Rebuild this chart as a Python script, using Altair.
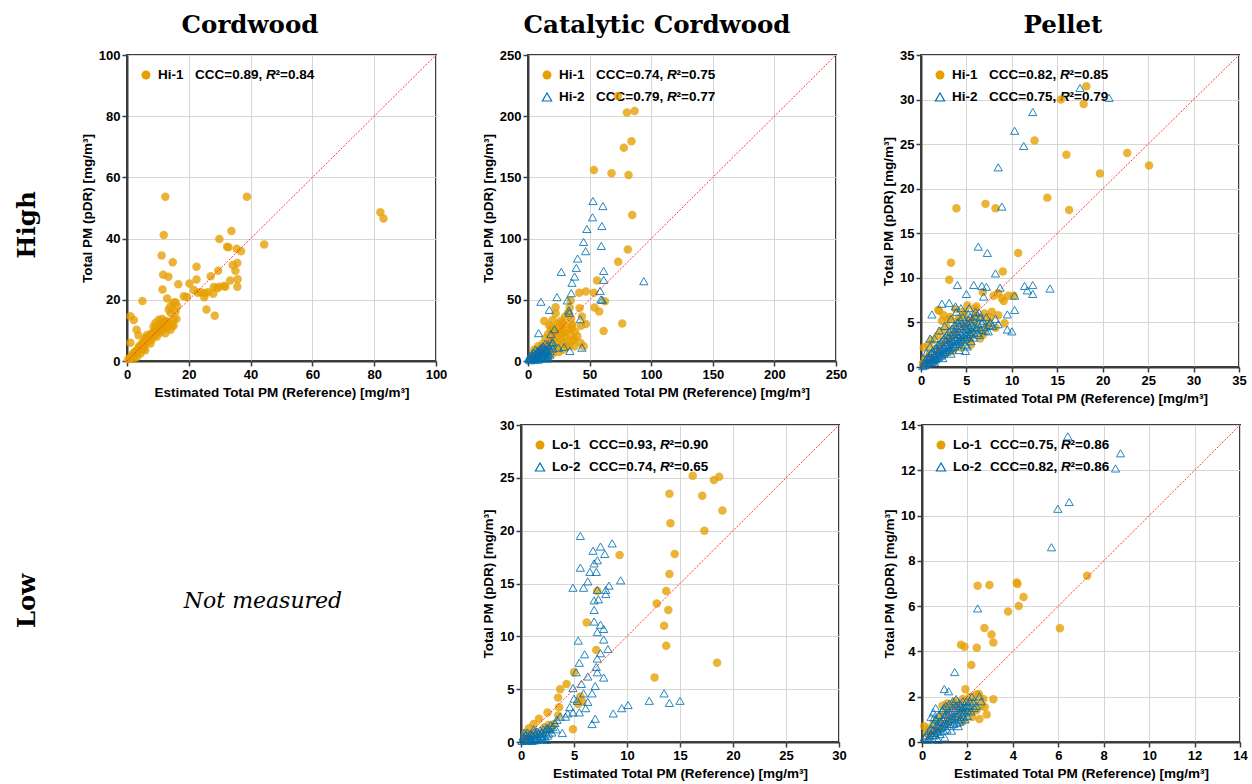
import altair as alt
import pandas as pd

# ---------------- data ----------------
# Cordwood, High burn rate, Hi-1 (x = reference, y = pDR), mg/m3
cord_hi1 = [
    (12.4, 53.7), (38.8, 53.7), (82.0, 48.6), (83.0, 46.6), (11.9, 41.2), (33.8, 42.5),
    (29.9, 39.9), (32.4, 37.3), (32.8, 37.2), (44.4, 38.1), (35.5, 36.7), (36.9, 35.9),
    (11.2, 34.5), (14.8, 32.3), (22.5, 30.8), (34.2, 31.4), (35.7, 32.0), (35.1, 29.5),
    (29.5, 29.5), (27.1, 27.7), (11.7, 28.2), (13.4, 27.5), (22.5, 26.6), (16.6, 25.1),
    (20.2, 25.3), (35.8, 26.7), (33.4, 26.3), (11.5, 23.4), (31.4, 24.5), (29.8, 24.3),
    (28.1, 24.2), (29.2, 23.8), (31.8, 24.3), (35.7, 24.3), (21.6, 23.2), (23.8, 22.5),
    (22.9, 22.3), (25.1, 22.2), (26.2, 22.5), (27.9, 22.0), (25.0, 20.8), (18.4, 21.2),
    (19.4, 20.9), (13.0, 20.4), (15.1, 19.0), (14.1, 17.9), (15.7, 19.2), (5.0, 19.6),
    (25.7, 16.8), (28.4, 14.8), (1.1, 14.6), (2.2, 13.4), (13.5, 16.8), (14.1, 15.7),
    (16.0, 13.7), (15.1, 11.5), (3.1, 10.2), (3.7, 8.4), (1.1, 6.0),
    (0.4, 0.6), (0.9, 0.7), (1.3, 1.4), (1.6, 1.3), (2.0, 1.9), (2.2, 0.8), (2.7, 2.4),
    (3.0, 3.3), (3.2, 1.3), (3.6, 3.5), (3.8, 4.4), (4.3, 2.4), (4.6, 5.0), (4.9, 4.6),
    (5.3, 6.3), (5.4, 4.2), (5.9, 3.5), (6.2, 7.0), (6.5, 8.5), (6.8, 6.2), (7.0, 6.9),
    (7.4, 8.2), (7.6, 5.7), (8.1, 9.1), (8.4, 7.8), (8.6, 11.3), (9.0, 10.1), (9.2, 12.4),
    (9.7, 8.0), (10.0, 10.6), (10.3, 13.5), (10.8, 9.3), (11.0, 12.0), (11.4, 13.7),
    (11.4, 10.7), (12.0, 11.2), (12.4, 13.1), (12.4, 9.1), (12.7, 10.7), (13.0, 12.8),
    (13.5, 12.4), (14.1, 10.2), (14.6, 11.8), (15.1, 13.5), (15.7, 16.2), (16.2, 17.9),
    (1.0, 1.0), (1.8, 2.2), (2.5, 3.0), (3.4, 3.0), (4.0, 4.8), (4.8, 5.6), (5.6, 5.2),
    (6.0, 7.4), (6.9, 7.6), (7.8, 8.8), (8.8, 9.2), (9.5, 10.8), (10.5, 11.5), (11.8, 12.6),
    (12.2, 11.9), (13.2, 11.2), (10.2, 9.8), (9.0, 8.6), (8.0, 7.0), (5.0, 3.8),
]

# Catalytic cordwood, High: Hi-1 (circles) and Hi-2 (triangles)
cat_hi1 = [
    (73.0, 216.6), (80.3, 203.0), (86.5, 204.3), (77.8, 174.2), (84.0, 179.6), (53.5, 156.0),
    (67.8, 153.3), (81.6, 151.9), (84.6, 119.3), (81.0, 91.0), (73.2, 81.0), (56.0, 65.8),
    (41.6, 55.7), (47.0, 56.8), (53.5, 55.7), (62.4, 48.9), (54.0, 43.8), (57.8, 40.5),
    (76.5, 30.7), (61.4, 24.5), (34.6, 49.5), (33.8, 43.5), (32.4, 39.1), (34.9, 34.5),
    (22.4, 44.0), (22.4, 38.9), (13.2, 32.6), (36.0, 29.6), (41.9, 43.2), (43.8, 36.4),
    (42.7, 14.7), (36.5, 16.8), (26.8, 32.9), (20.0, 33.4), (35.4, 28.8), (43.0, 28.8),
    (47.0, 30.2), (37.6, 17.9), (45.1, 12.0), (37.6, 12.0), (26.8, 26.0), (29.5, 23.4),
    (24.0, 20.7), (21.4, 24.7), (18.6, 27.4),
    (10.2, 10.5), (12.1, 14.2), (14.3, 18.6), (15.2, 11.8), (16.4, 22.1), (17.2, 8.3),
    (18.1, 16.4), (19.3, 20.2), (20.4, 13.1), (21.2, 18.3), (22.1, 24.4), (23.3, 11.2),
    (24.2, 15.1), (25.1, 28.3), (26.3, 18.2), (27.2, 22.4), (28.1, 14.3), (29.4, 30.2),
    (30.2, 19.4), (31.1, 25.3), (32.3, 16.1), (33.2, 12.2), (34.1, 22.3), (35.3, 26.2),
    (38.2, 24.1), (40.1, 20.3), (6.1, 5.2), (8.2, 12.1), (9.1, 4.3), (11.3, 7.2),
    (13.2, 9.1), (5.2, 9.3), (7.1, 3.2), (3.2, 2.1), (4.1, 6.2), (28.3, 9.2),
    (31.2, 12.4), (25.1, 7.3), (20.2, 6.1), (16.1, 4.2), (12.3, 11.1), (30.1, 36.2),
    (27.2, 31.1), (24.1, 30.3), (19.2, 25.1), (17.1, 29.2),
]
cat_hi2 = [
    (52.7, 130.7), (60.8, 126.6), (52.4, 117.4), (60.0, 110.3), (47.8, 107.9), (45.1, 97.3),
    (46.8, 89.7), (59.5, 94.0), (40.3, 83.7), (39.2, 76.1), (37.8, 69.0), (27.0, 72.8),
    (35.7, 63.9), (61.4, 73.6), (61.4, 66.3), (94.0, 65.2), (35.1, 55.4), (58.6, 57.3),
    (59.2, 50.3), (60.3, 50.0), (23.5, 52.2), (31.9, 49.5), (33.2, 41.3), (10.5, 48.4),
    (17.3, 41.8), (42.4, 34.2), (8.6, 22.8), (34.0, 8.2), (43.8, 10.9), (29.2, 11.4),
    (24.6, 10.9), (18.9, 12.8), (20.0, 15.2), (18.6, 22.0), (33.5, 39.4), (21.4, 26.0),
    (1.1, 1.2), (2.2, 3.1), (3.1, 1.6), (4.2, 4.1), (5.1, 2.2), (6.3, 6.1), (7.2, 3.3),
    (8.1, 8.2), (9.3, 4.1), (10.2, 10.3), (11.1, 5.2), (12.2, 12.1), (13.1, 7.3),
    (14.2, 14.3), (15.1, 9.2), (16.3, 6.1), (17.2, 11.2), (12.1, 2.3), (10.3, 7.1),
    (8.2, 1.1), (6.1, 9.2), (4.3, 7.1), (2.1, 0.6), (3.2, 5.1), (5.3, 5.2), (7.1, 7.2),
    (9.2, 9.1), (11.3, 11.2), (13.2, 3.1), (14.1, 5.3), (15.2, 2.1), (16.2, 13.2),
    (18.1, 8.1), (19.2, 15.1), (20.1, 10.2), (1.6, 4.2), (3.6, 2.6), (5.6, 1.1),
    (7.6, 5.1), (9.6, 2.1), (11.6, 8.2), (13.6, 10.1), (15.6, 4.1), (17.6, 5.2),
    (6.6, 4.1), (8.6, 6.2), (10.6, 3.1), (12.6, 6.2), (14.6, 8.1), (16.6, 3.1),
    (0.6, 2.1), (2.6, 2.2), (4.6, 3.1),
]

# Pellet, High: Hi-1 (circles) and Hi-2 (triangles)
pel_hi1 = [
    (18.2, 31.5), (15.4, 30.0), (17.9, 29.5), (12.5, 25.4), (16.0, 23.8), (22.7, 24.0),
    (25.1, 22.6), (19.7, 21.7), (13.9, 19.0), (16.3, 17.6), (3.9, 17.8), (7.1, 18.3),
    (8.2, 17.8), (10.7, 12.8), (3.3, 11.7), (3.1, 9.8), (9.0, 10.7), (6.8, 8.4),
    (8.9, 7.7), (9.6, 8.0), (10.2, 8.0), (9.1, 7.4), (8.5, 8.3), (9.2, 4.9), (2.0, 6.3),
    (5.1, 6.9), (6.1, 6.8), (7.8, 6.2), (8.5, 5.8), (2.5, 5.8), (3.0, 5.3), (8.0, 8.0),
    (7.4, 5.1), (5.8, 5.1), (4.7, 4.7), (6.9, 4.0), (6.5, 3.2), (5.4, 3.1), (3.9, 5.1),
    (3.2, 5.6), (1.9, 6.4),
    (0.3, 2.2), (0.5, 1.0), (0.8, 2.5), (1.0, 1.5), (1.2, 3.0), (1.5, 2.0), (1.8, 3.5),
    (2.0, 2.5), (2.2, 4.0), (2.5, 3.0), (2.8, 4.5), (3.0, 3.5), (3.3, 2.8), (3.6, 4.2),
    (4.0, 3.6), (4.2, 5.5), (4.5, 3.0), (4.8, 5.8), (5.0, 4.2), (5.3, 5.2), (5.6, 3.8),
    (6.0, 5.8), (6.2, 4.5), (6.6, 5.5), (7.0, 6.0), (7.3, 4.6), (7.6, 5.6), (5.5, 2.5),
    (4.4, 2.2), (3.5, 1.8), (2.6, 1.5), (1.6, 0.8), (0.2, 0.4), (0.6, 0.3), (8.2, 4.4),
    (6.8, 3.6), (5.9, 6.5), (4.6, 6.2), (3.8, 6.5), (2.3, 5.2),
]
pel_hi2 = [
    (17.5, 31.3), (20.7, 30.2), (12.3, 28.6), (10.3, 26.5), (11.3, 24.8), (8.5, 22.4),
    (8.9, 18.0), (6.3, 13.5), (7.3, 12.8), (8.2, 10.5), (4.0, 9.2), (5.8, 9.2), (6.7, 9.1),
    (7.2, 9.0), (11.4, 9.1), (12.3, 9.2), (14.2, 8.8), (11.7, 8.6), (12.3, 8.2), (10.3, 8.0),
    (8.7, 8.9), (5.0, 8.2), (6.9, 7.9), (1.2, 5.9), (2.3, 7.1), (3.1, 7.2), (3.8, 6.8),
    (10.3, 6.4), (9.5, 5.9), (9.5, 4.2), (10.0, 4.0), (4.9, 1.8), (1.0, 3.2),
    (0.2, 0.1), (0.3, 0.5), (0.4, 0.2), (0.5, 0.8), (0.6, 0.4), (0.7, 1.1), (0.8, 0.5),
    (0.9, 0.9), (1.0, 1.4), (1.1, 0.6), (1.2, 1.0), (1.3, 1.8), (1.4, 0.8), (1.5, 1.3),
    (1.6, 2.1), (1.7, 1.0), (1.8, 1.6), (1.9, 2.5), (2.0, 1.2), (2.1, 1.9), (2.2, 2.8),
    (2.3, 1.4), (2.4, 2.2), (2.5, 3.2), (2.6, 1.7), (2.7, 2.5), (2.8, 3.6), (2.9, 1.9),
    (3.0, 2.8), (3.1, 4.0), (3.2, 2.1), (3.3, 3.1), (3.4, 4.3), (3.5, 2.4), (3.6, 3.4),
    (3.7, 4.7), (3.8, 2.6), (3.9, 3.7), (4.0, 5.0), (4.1, 2.9), (4.2, 4.0), (4.3, 5.3),
    (4.4, 3.1), (4.5, 4.3), (4.6, 5.6), (4.7, 3.4), (4.8, 4.6), (4.9, 2.5), (5.0, 3.6),
    (5.1, 4.9), (5.2, 6.0), (5.3, 3.9), (5.4, 5.1), (5.5, 2.9), (5.6, 4.2), (5.7, 5.4),
    (5.8, 3.3), (5.9, 4.5), (6.0, 5.7), (6.2, 3.8), (6.3, 4.8), (6.4, 6.1), (6.6, 4.2),
    (6.8, 5.2), (7.0, 4.5), (7.2, 5.6), (7.4, 4.0), (7.6, 5.0), (7.9, 4.6), (8.2, 5.4),
    (8.5, 4.8), (1.5, 3.2), (2.0, 4.1), (2.6, 4.6), (1.0, 2.3), (0.6, 1.6), (3.3, 5.4),
    (3.9, 6.2), (4.4, 6.6), (5.3, 6.6),
    (0.4, 0.3), (0.7, 0.6), (0.9, 0.5), (1.1, 0.9), (1.3, 0.7), (1.4, 1.2), (1.6, 0.9),
    (1.7, 1.4), (1.9, 1.1), (2.0, 1.6), (2.2, 1.3), (2.3, 1.9), (2.5, 1.5), (2.6, 2.1),
    (2.8, 1.7), (2.9, 2.4), (3.1, 1.9), (3.2, 2.6), (3.4, 2.2), (3.5, 2.9), (3.7, 2.3),
    (3.8, 3.1), (4.0, 2.6), (4.1, 3.4), (4.3, 2.8), (4.4, 3.7), (4.6, 3.0), (4.7, 3.9),
    (4.9, 3.2), (5.0, 4.2), (5.2, 3.4), (5.3, 4.4), (5.5, 3.7), (5.6, 4.7), (5.8, 3.9),
    (6.1, 4.4), (6.4, 3.6), (6.7, 4.9), (7.1, 4.1), (7.5, 4.7), (2.1, 2.3), (2.7, 3.0),
    (3.3, 3.6), (3.9, 4.4), (4.5, 4.9), (1.2, 1.6), (1.8, 2.0), (0.8, 1.0), (3.0, 3.3),
    (3.6, 3.9), (4.2, 4.6), (4.8, 5.1), (5.4, 5.6), (6.0, 6.2), (6.5, 5.6), (1.5, 0.6),
    (2.4, 1.0), (3.3, 1.5), (4.2, 1.9), (5.1, 2.3),
]

# Catalytic cordwood, Low: Lo-1 (circles) and Lo-2 (triangles)
cat_lo1 = [
    (16.2, 25.2), (18.2, 24.8), (18.7, 25.1), (14.0, 23.5), (17.1, 23.3), (19.0, 21.9),
    (14.1, 20.7), (17.3, 20.0), (9.3, 17.7), (14.5, 17.8), (14.0, 15.9), (13.7, 14.3),
    (7.2, 14.3), (12.8, 13.1), (13.9, 12.5), (6.2, 11.3), (13.5, 11.0), (13.7, 9.1),
    (7.1, 8.7), (18.5, 7.5), (12.6, 6.1), (5.0, 6.6), (4.3, 5.5), (3.7, 5.0), (3.5, 4.2),
    (3.6, 3.3), (3.5, 2.5), (5.6, 4.3), (5.8, 3.8), (5.4, 3.6), (2.5, 2.8), (1.7, 2.2),
    (1.2, 1.7), (4.9, 1.2), (2.6, 1.6), (3.1, 1.7), (2.2, 1.4), (0.75, 1.3), (0.4, 0.8),
    (0.35, 0.5), (1.4, 0.95), (1.9, 0.8), (1.0, 0.6), (0.6, 0.3), (2.8, 1.2),
]
cat_lo2 = [
    (5.6, 19.5), (8.6, 18.8), (7.5, 18.5), (6.8, 18.1), (7.9, 17.8), (7.2, 17.2), (6.9, 16.9),
    (5.6, 16.5), (6.5, 16.1), (7.1, 16.1), (9.4, 15.3), (6.3, 15.2), (8.3, 14.8), (4.9, 14.6),
    (5.9, 14.6), (8.0, 14.4), (7.2, 14.4), (6.9, 13.4), (7.3, 13.5), (8.0, 14.0), (6.9, 12.5),
    (6.9, 11.4), (7.5, 11.1), (7.8, 10.7), (7.2, 10.4), (5.4, 9.6), (7.8, 9.7), (8.2, 8.8),
    (6.0, 8.3), (7.5, 8.4), (5.5, 7.5), (7.2, 7.9), (7.1, 7.1), (5.2, 6.6), (7.2, 6.6),
    (7.8, 6.1), (6.3, 6.2), (5.7, 5.5), (7.0, 5.3), (6.7, 4.6), (4.9, 5.1), (5.9, 4.6),
    (5.3, 3.9), (6.3, 3.8), (6.1, 3.2), (5.5, 2.8), (8.7, 2.7), (7.0, 2.2), (6.7, 1.7),
    (9.5, 3.2), (10.1, 3.5), (12.1, 3.9), (13.5, 4.6), (14.0, 3.7), (15.0, 3.9), (4.9, 2.8),
    (4.4, 2.7), (3.9, 0.85), (3.7, 2.4), (3.4, 2.1), (2.8, 1.6), (2.5, 1.3), (4.2, 2.4),
    (4.6, 3.3), (5.0, 4.1),
    (0.1, 0.1), (0.2, 0.5), (0.3, 0.2), (0.4, 0.7), (0.5, 0.3), (0.6, 0.6), (0.7, 0.2),
    (0.8, 0.5), (0.9, 0.8), (1.0, 0.3), (1.1, 0.6), (1.2, 0.9), (1.3, 0.4), (1.4, 0.7),
    (1.5, 1.0), (1.6, 0.4), (1.7, 0.8), (1.8, 1.1), (1.9, 0.5), (2.0, 0.9), (2.1, 1.2),
    (2.2, 0.6), (2.3, 1.0), (2.4, 1.3), (2.6, 0.8), (2.7, 1.2), (1.5, 0.2), (1.0, 0.1),
    (2.0, 0.3), (0.3, 0.9), (3.0, 1.4), (3.2, 1.8),
    (0.5, 0.1), (0.9, 0.2), (1.3, 0.15), (1.7, 0.3), (2.1, 0.4), (2.5, 0.6), (2.9, 0.9),
    (3.3, 1.2), (0.6, 0.9), (1.2, 1.2), (1.8, 0.6), (2.4, 0.2),
]

# Pellet, Low: Lo-1 (circles) and Lo-2 (triangles)
pel_lo1 = [
    (7.27, 7.34), (2.45, 6.90), (2.97, 6.93), (4.17, 7.04), (4.20, 6.98), (4.47, 6.40),
    (4.26, 6.01), (3.79, 5.76), (6.07, 5.02), (2.75, 5.04), (3.06, 4.75), (3.14, 4.39),
    (1.72, 4.30), (1.87, 4.21), (2.41, 4.16), (2.17, 3.40), (1.91, 2.33), (2.50, 2.12),
    (3.14, 1.89), (2.76, 1.55), (2.85, 1.22), (2.53, 1.02),
    (0.1, 0.7), (0.2, 0.4), (0.3, 0.6), (0.4, 0.3), (0.5, 0.8), (0.6, 0.5), (0.7, 1.0),
    (0.8, 0.6), (0.9, 1.2), (1.0, 0.8), (1.1, 1.4), (1.2, 0.9), (1.3, 1.6), (1.4, 1.1),
    (1.5, 1.8), (1.6, 1.2), (1.7, 1.5), (1.8, 1.9), (1.9, 1.3), (2.0, 1.7), (2.1, 2.0),
    (2.2, 1.4), (2.3, 1.8), (2.4, 2.1), (2.6, 1.6), (2.2, 1.1), (1.8, 0.9), (1.4, 1.7),
    (1.1, 1.7), (0.9, 1.6), (2.7, 1.9), (2.4, 1.4),
]
pel_lo2 = [
    (6.42, 13.5), (8.74, 12.75), (8.52, 12.08), (5.98, 10.3), (6.48, 10.6), (5.70, 8.6),
    (2.45, 5.9), (1.44, 3.09), (0.98, 2.34), (1.17, 2.24),
    (0.1, 0.2), (0.2, 0.3), (0.25, 0.1), (0.3, 0.5), (0.35, 0.25), (0.4, 0.6), (0.45, 0.3),
    (0.5, 0.8), (0.55, 0.4), (0.6, 1.0), (0.65, 0.5), (0.7, 0.7), (0.75, 1.2), (0.8, 0.6),
    (0.85, 0.9), (0.9, 1.4), (0.95, 0.7), (1.0, 1.1), (1.05, 1.6), (1.1, 0.8), (1.15, 1.2),
    (1.2, 1.7), (1.25, 0.9), (1.3, 1.3), (1.35, 1.8), (1.4, 1.0), (1.45, 1.4), (1.5, 1.9),
    (1.55, 1.1), (1.6, 1.5), (1.65, 0.9), (1.7, 1.6), (1.75, 1.2), (1.8, 1.8), (1.85, 1.3),
    (1.9, 1.0), (1.95, 1.6), (2.0, 1.4), (2.1, 1.8), (2.2, 2.0), (2.3, 1.5), (2.53, 2.02),
    (2.6, 1.8), (1.0, 0.2), (0.7, 0.1), (0.5, 1.3), (0.6, 1.5), (0.4, 1.1),
    (0.3, 0.15), (0.4, 0.4), (0.5, 0.55), (0.6, 0.3), (0.65, 0.75), (0.7, 0.45),
    (0.75, 0.9), (0.8, 0.35), (0.85, 0.65), (0.9, 1.0), (0.95, 0.5), (1.0, 0.85),
    (1.05, 1.25), (1.1, 0.55), (1.15, 0.95), (1.2, 1.35), (1.25, 0.7), (1.3, 1.05),
    (1.35, 1.5), (1.4, 0.8), (1.45, 1.15), (1.5, 1.6), (1.55, 0.85), (1.6, 1.25),
    (1.65, 1.7), (1.7, 1.0), (1.75, 1.4), (1.8, 1.55), (1.85, 1.1), (1.9, 1.5),
    (1.95, 1.8), (2.0, 1.15), (2.05, 1.6), (2.15, 1.35), (2.25, 1.75), (2.4, 1.6),
    (1.3, 0.5), (1.6, 0.7), (0.55, 1.1), (0.95, 1.5),
]

# legend statistics
stats = {
    "cord_hi": [("circle", "Hi-1", "0.89", "0.84")],
    "cat_hi": [("circle", "Hi-1", "0.74", "0.75"), ("triangle", "Hi-2", "0.79", "0.77")],
    "pel_hi": [("circle", "Hi-1", "0.82", "0.85"), ("triangle", "Hi-2", "0.75", "0.79")],
    "cat_lo": [("circle", "Lo-1", "0.93", "0.90"), ("triangle", "Lo-2", "0.74", "0.65")],
    "pel_lo": [("circle", "Lo-1", "0.75", "0.86"), ("triangle", "Lo-2", "0.82", "0.86")],
}
col_titles = ["Cordwood", "Catalytic Cordwood", "Pellet"]
row_titles = ["High", "Low"]
x_title = "Estimated Total PM (Reference) [mg/m³]"
y_title = "Total PM (pDR) [mg/m³]"

# ---------------- styling ----------------
ORANGE = "#E69F00"
BLUE = "#0072B2"
SANS = "Liberation Sans"
SERIF = "DejaVu Serif"
DARK = "#3c3c3c"


def axis(ticks, title):
    return alt.Axis(
        values=ticks, title=title, grid=True, gridColor="#d6d6d6", gridWidth=1,
        domainColor=DARK, domainWidth=2, tickColor=DARK, tickSize=5, tickWidth=1.5,
        labelFont=SANS, labelFontSize=13, labelFontWeight="bold", labelColor="black",
        labelPadding=2, labelFlush=False, labelOverlap=False,
        titleFont=SANS, titleFontSize=13.5, titleFontWeight="bold", titleColor="black",
        titlePadding=4,
    )


def text_layer(txt, x, y, **kw):
    return (alt.Chart(pd.DataFrame({"t": [txt]}))
            .mark_text(color="black", **kw)
            .encode(x=alt.value(x), y=alt.value(y), text="t:N"))


def legend_layers(rows):
    out = []
    for i, (kind, name, ccc, r2) in enumerate(rows):
        ly = 20 + 22 * i
        one = pd.DataFrame({"t": [name]})
        if kind == "circle":
            mk = alt.Chart(one).mark_point(shape="circle", filled=True, size=80,
                                           color=ORANGE, opacity=1)
        else:
            mk = alt.Chart(one).mark_point(shape="triangle-up", filled=False, size=85,
                                           color=BLUE, strokeWidth=1.2, opacity=1)
        out.append(mk.encode(x=alt.value(19), y=alt.value(ly)))
        pieces = [(name, 31, "normal"), (f"CCC={ccc}, ", 68, "normal"),
                  ("R", 139, "italic"), (f"²={r2}", 148.5, "normal")]
        for txt, xpos, style in pieces:
            out.append(text_layer(txt, xpos, ly, align="left", baseline="middle", font=SANS,
                                  fontSize=13.5, fontWeight="bold", fontStyle=style))
    return out


def panel(circ, tri, dmax, step, w, h, legend_rows, extras=()):
    ticks = list(range(0, dmax + 1, step))
    sx = alt.Scale(domain=[0, dmax], nice=False, zero=True)
    sy = alt.Scale(domain=[0, dmax], nice=False, zero=True)
    X = alt.X("x:Q", scale=sx, axis=axis(ticks, x_title))
    Y = alt.Y("y:Q", scale=sy, axis=axis(ticks, y_title))
    layers = legend_layers(legend_rows)
    cdf = pd.DataFrame(circ, columns=["x", "y"])
    layers.append(alt.Chart(cdf).mark_point(shape="circle", filled=True, size=72,
                                            color=ORANGE, opacity=0.78, strokeWidth=0)
                  .encode(x=X, y=Y))
    if tri is not None:
        tdf = pd.DataFrame(tri, columns=["x", "y"])
        layers.append(alt.Chart(tdf).mark_point(shape="triangle-up", filled=False, size=68,
                                                color=BLUE, strokeWidth=1, opacity=0.85)
                      .encode(x=X, y=Y))
    ldf = pd.DataFrame({"x": [0, dmax], "y": [0, dmax]})
    layers.append(alt.Chart(ldf).mark_line(color="#ff2020", strokeWidth=1,
                                           strokeDash=[2, 1.5], opacity=0.9)
                  .encode(x=X, y=Y))
    layers.extend(extras)
    return alt.layer(*layers).properties(width=w, height=h)


TITLE_BASE = 32  # baseline of column titles (page px)
TOP1 = 54        # top of the first-row plot areas (page px)


def col_title(text, center_x, plot_left):
    return text_layer(text, center_x - plot_left, TITLE_BASE - TOP1, align="center",
                      baseline="alphabetic", font=SERIF, fontSize=24.5, fontWeight="bold")


def row_label(text, x, y):
    return text_layer(text, x, y, font=SERIF, fontSize=24.5, fontWeight="bold", angle=270,
                      align="center", baseline="middle")


p1 = panel(cord_hi1, None, 100, 20, 309, 306, stats["cord_hi"],
           extras=[col_title(col_titles[0], 250, 127), row_label(row_titles[0], -99, 224 - TOP1)])
p2 = panel(cat_hi1, cat_hi2, 250, 50, 308, 306, stats["cat_hi"],
           extras=[col_title(col_titles[1], 656, 527)])
p3 = panel(pel_hi1, pel_hi2, 35, 5, 318, 312, stats["pel_hi"],
           extras=[col_title(col_titles[2], 1061, 919)])
p4 = panel(cat_lo1, cat_lo2, 30, 5, 318, 317, stats["cat_lo"])
p5 = panel(pel_lo1, pel_lo2, 14, 2, 318, 317, stats["pel_lo"])

# empty first cell of the second row; its plot origin lines up with the Cordwood panel
blank = alt.layer(
    row_label(row_titles[1], -99, 601 - 425),
    text_layer("Not measured", 263 - 127, 601 - 425, font=SERIF, fontSize=22,
               fontStyle="italic", align="center", baseline="middle"),
).properties(width=320, height=317, view=alt.ViewBackground(strokeOpacity=0))

row1 = alt.hconcat(p1, p2, p3, spacing=32)
row2 = alt.hconcat(blank, p4, p5, spacing=33)

chart = (
    alt.vconcat(row1, row2, spacing=12)
    .properties(padding={"left": 14, "top": 12, "right": 0, "bottom": 0},
                background="white")
    .configure_view(stroke=DARK, strokeWidth=2)
)

chart.save("out.html", embed_options={"renderer": "svg", "actions": False})
